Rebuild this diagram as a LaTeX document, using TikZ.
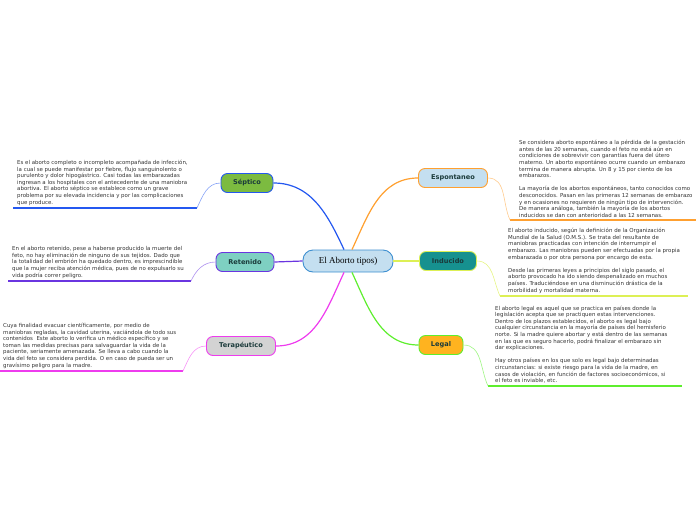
\documentclass[tikz,border=0pt]{standalone}
\usepackage{fontspec}
\setmainfont{DejaVu Sans}
\newfontfamily\rootfont{Liberation Serif}
\usetikzlibrary{positioning}

\begin{document}
\begin{tikzpicture}[x=1pt,y=1pt,
  topic/.style={draw,line width=0.9pt,rounded corners=6.5pt,minimum height=19pt,inner xsep=3pt,
    font=\fontsize{6.6}{7}\selectfont\bfseries,text=textdark},
  info/.style={anchor=south west,align=left,inner xsep=4pt,inner ysep=2.5pt,
    font=\fontsize{5.45}{6.6}\selectfont,text=textgrey},
  branch/.style={line width=1.2pt},
  twig/.style={line width=0.6pt},
  rule/.style={line width=1.2pt}]

\definecolor{textdark}{HTML}{1A3A3A}
\definecolor{textgrey}{HTML}{333333}
\definecolor{rootfill}{HTML}{C4DFF0}
\definecolor{rootedge}{HTML}{3D8FD0}
\definecolor{septfill}{HTML}{7CBB40}
\definecolor{septedge}{HTML}{2458F0}
\definecolor{retfill}{HTML}{7ED0C2}
\definecolor{retedge}{HTML}{6A35E0}
\definecolor{terfill}{HTML}{D3D3D3}
\definecolor{teredge}{HTML}{EE3CEE}
\definecolor{spfill}{HTML}{C4DFF0}
\definecolor{spedge}{HTML}{FFA030}
\definecolor{indfill}{HTML}{16918F}
\definecolor{indedge}{HTML}{DDF055}
\definecolor{legfill}{HTML}{FFB31F}
\definecolor{legedge}{HTML}{5EEE2E}

\useasboundingbox (0,0) rectangle (696,-520);

% central node
\node[draw=rootedge,fill=rootfill,line width=0.9pt,rounded corners=10pt,minimum width=90pt,
  minimum height=22pt,font=\rootfont\fontsize{9}{10}\selectfont] (root) at (348,-261) {El Aborto tipos)};

% topics
\node[topic,fill=septfill,draw=septedge,minimum width=52pt] (septico) at (247,-183) {Séptico};
\node[topic,fill=retfill,draw=retedge,minimum width=58pt] (retenido) at (245,-262) {Retenido};
\node[topic,fill=terfill,draw=teredge,minimum width=69pt] (terapeutico) at (241,-346) {Terapéutico};
\node[topic,fill=spfill,draw=spedge,minimum width=69pt] (espontaneo) at (453,-178) {Espontaneo};
\node[topic,fill=indfill,draw=indedge,minimum width=57pt] (inducido) at (448,-261) {Inducido};
\node[topic,fill=legfill,draw=legedge,minimum width=44pt] (legal) at (441,-345) {Legal};

\draw[branch,septedge] ([xshift=-4pt]root.north) to[out=115,in=0] (septico.east);
\draw[branch,spedge] ([xshift=4pt]root.north) to[out=65,in=180] (espontaneo.west);
\draw[branch,retedge] (root.west) -- (retenido.east);
\draw[branch,indedge] (root.east) -- (inducido.west);
\draw[branch,teredge] ([xshift=-4pt]root.south) to[out=-115,in=0] (terapeutico.east);
\draw[branch,legedge] ([xshift=4pt]root.south) to[out=-65,in=180] (legal.west);

% notes
\coordinate (septL) at (13,-208);
\coordinate (septR) at (197,-208);
\node[info] (septtxt) at (septL) {Es el aborto completo o incompleto acompañada de infección,\\
la cual se puede manifestar por fiebre, flujo sanguinolento o\\
purulento y dolor hipogástrico. Casi todas las embarazadas\\
ingresan a los hospitales con el antecedente de una maniobra\\
abortiva. El aborto séptico se establece como un grave\\
problema por su elevada incidencia y por las complicaciones\\
que produce.};
\draw[rule,septedge] (septL) -- (septR);
\draw[twig,septedge!55] (septico.west) to[out=180,in=65] (septR);

\coordinate (retL) at (8,-281);
\coordinate (retR) at (191,-281);
\node[info] (rettxt) at (retL) {En el aborto retenido, pese a haberse producido la muerte del\\
feto, no hay eliminación de ninguno de sus tejidos. Dado que\\
la totalidad del embrión ha quedado dentro, es imprescindible\\
que la mujer reciba atención médica, pues de no expulsarlo su\\
vida podría correr peligro.};
\draw[rule,retedge] (retL) -- (retR);
\draw[twig,retedge!55] (retenido.west) to[out=180,in=65] (retR);

\coordinate (terL) at (0,-371);
\coordinate (terR) at (183,-371);
\node[info,inner xsep=3pt] (tertxt) at (terL) {Cuya finalidad evacuar científicamente, por medio de\\
maniobras regladas, la cavidad uterina, vaciándola de todo sus\\
contenidos\ \ Este aborto lo verifica un médico específico y se\\
toman las medidas precisas para salvaguardar la vida de la\\
paciente, seriamente amenazada. Se lleva a cabo cuando la\\
vida del feto se considera perdida. O en caso de pueda ser un\\
gravísimo peligro para la madre.};
\draw[rule,teredge] (terL) -- (terR);
\draw[twig,teredge!55] (terapeutico.west) to[out=180,in=65] (terR);

\coordinate (spL) at (510,-220);
\coordinate (spR) at (696,-220);
\node[info,inner xsep=9pt] (sptxt) at (spL) {Se considera aborto espontáneo a la pérdida de la gestación\\
antes de las 20 semanas, cuando el feto no está aún en\\
condiciones de sobrevivir con garantías fuera del útero\\
materno. Un aborto espontáneo ocurre cuando un embarazo\\
termina de manera abrupta. Un 8 y 15 por ciento de los\\
embarazos.\\[6.6pt]
La mayoría de los abortos espontáneos, tanto conocidos como\\
desconocidos. Pasan en las primeras 12 semanas de embarazo\\
y en ocasiones no requieren de ningún tipo de intervención.\\
De manera análoga, también la mayoría de los abortos\\
inducidos se dan con anterioridad a las 12 semanas.};
\draw[rule,spedge] (spL) -- (spR);
\draw[twig,spedge!55] (espontaneo.east) to[out=0,in=115] (spL);

\coordinate (indL) at (500,-296);
\coordinate (indR) at (688,-296);
\node[info,inner xsep=8pt] (indtxt) at (indL) {El aborto inducido, según la definición de la Organización\\
Mundial de la Salud (O.M.S.). Se trata del resultante de\\
maniobras practicadas con intención de interrumpir el\\
embarazo. Las maniobras pueden ser efectuadas por la propia\\
embarazada o por otra persona por encargo de esta.\\[6.6pt]
Desde las primeras leyes a principios del siglo pasado, el\\
aborto provocado ha ido siendo despenalizado en muchos\\
países. Traduciéndose en una disminución drástica de la\\
morbilidad y mortalidad materna.};
\draw[rule,indedge] (indL) -- (indR);
\draw[twig,indedge!70] (inducido.east) to[out=0,in=115] (indL);

\coordinate (legL) at (488,-386);
\coordinate (legR) at (682,-386);
\node[info,inner xsep=7pt] (legtxt) at (legL) {El aborto legal es aquel que se practica en países donde la\\
legislación acepta que se practiquen estas intervenciones.\\
Dentro de los plazos establecidos, el aborto es legal bajo\\
cualquier circunstancia en la mayoría de países del hemisferio\\
norte. Si la madre quiere abortar y está dentro de las semanas\\
en las que es seguro hacerlo, podrá finalizar el embarazo sin\\
dar explicaciones.\\[6.6pt]
Hay otros países en los que solo es legal bajo determinadas\\
circunstancias: si existe riesgo para la vida de la madre, en\\
casos de violación, en función de factores socioeconómicos, si\\
el feto es inviable, etc.};
\draw[rule,legedge] (legL) -- (legR);
\draw[twig,legedge!60] (legal.east) to[out=0,in=115] (legL);

\end{tikzpicture}
\end{document}
